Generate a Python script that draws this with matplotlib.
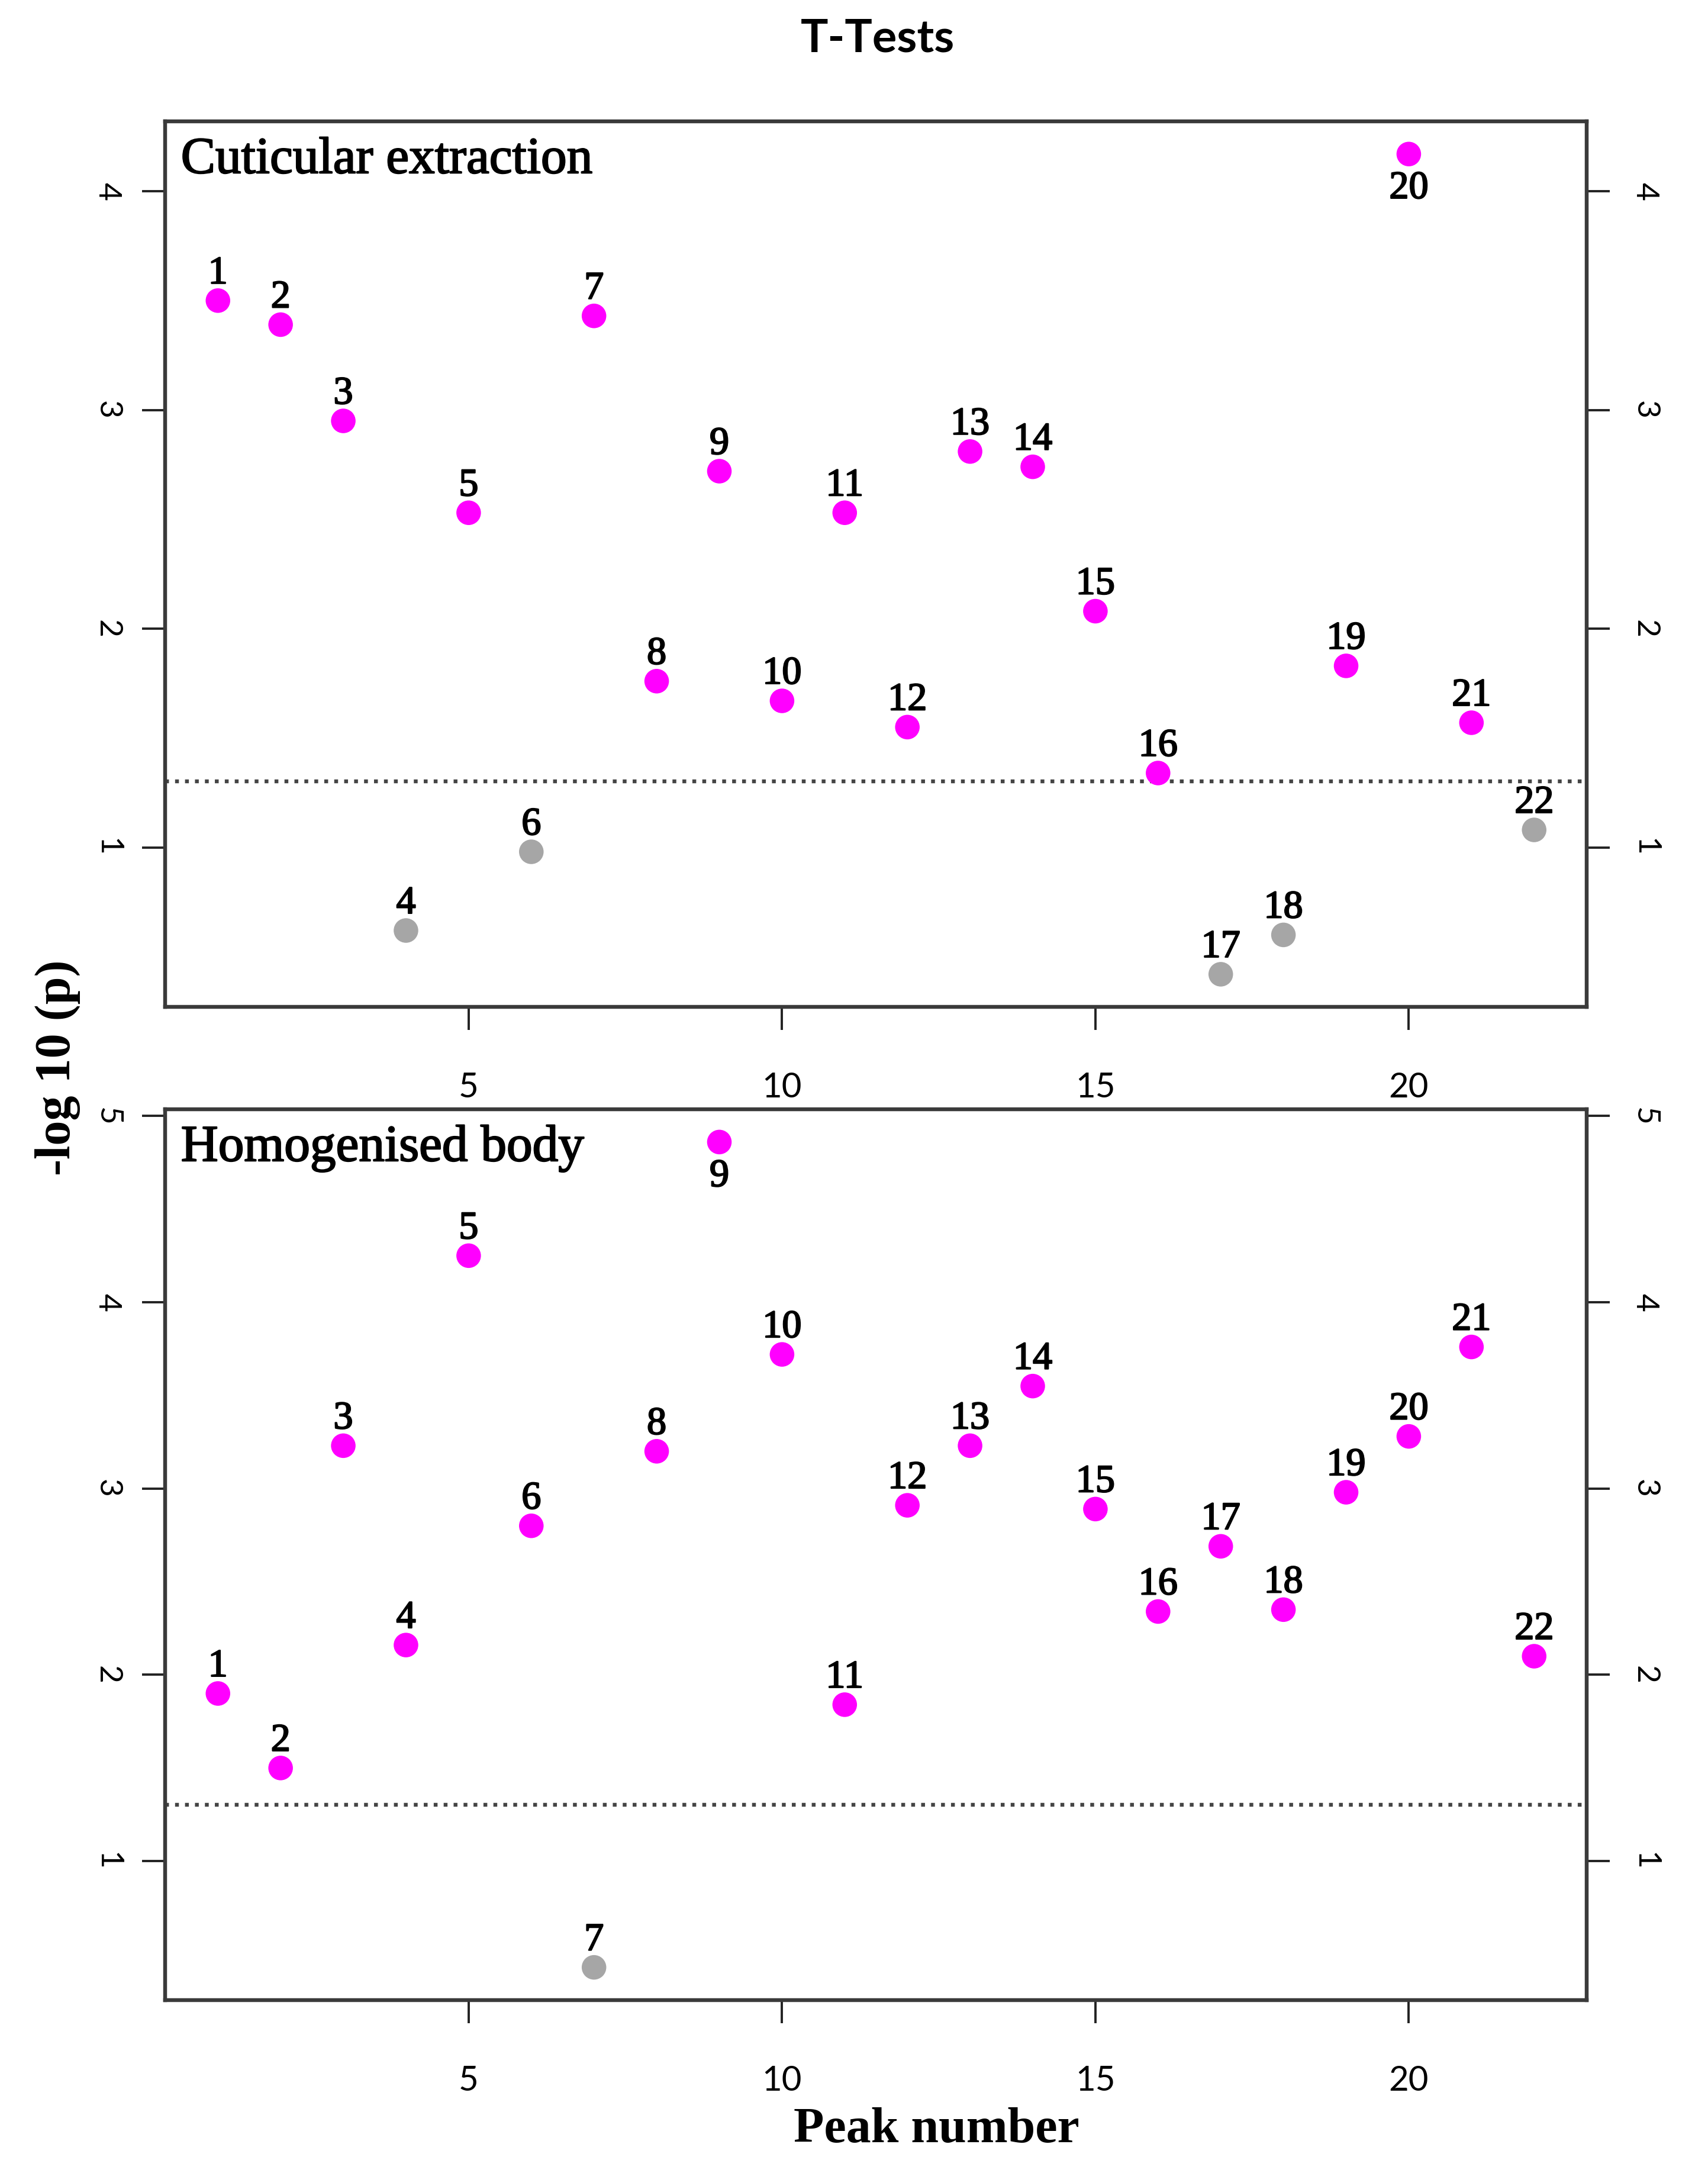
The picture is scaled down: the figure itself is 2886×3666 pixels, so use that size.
import matplotlib
matplotlib.use("Agg")
import matplotlib.pyplot as plt
import matplotlib.patheffects as pe
import numpy as np

# -log10(p) per peak
peaks = np.arange(1, 23)
cuticular = [3.50, 3.39, 2.95, 0.62, 2.53, 0.98, 3.43, 1.76, 2.72, 1.67, 2.53,
             1.55, 2.81, 2.74, 2.08, 1.34, 0.42, 0.60, 1.83, 4.17, 1.57, 1.08]
body = [1.90, 1.50, 3.23, 2.16, 4.25, 2.80, 0.43, 3.20, 4.86, 3.72, 1.84,
        2.91, 3.23, 3.55, 2.89, 2.34, 2.69, 2.35, 2.98, 3.28, 3.76, 2.10]
threshold = -np.log10(0.05)

panel_titles = ["Cuticular extraction", "Homogenised body"]
label_below = [[20], [9]]  # peaks whose number sits under the point
y_ticks = [[1, 2, 3, 4], [1, 2, 3, 4, 5]]
x_ticks = [5, 10, 15, 20]

W, H = 12.4, 3666 / 2886 * 12.4
fig = plt.figure(figsize=(W, H), dpi=2886 / W)

def fy(px):
    return 1 - px / (H * 100)

axes = [fig.add_axes([120 / 1240, fy(731), 1032 / 1240, fy(88) - fy(731)]),
        fig.add_axes([120 / 1240, fy(1452), 1032 / 1240, fy(805) - fy(1452)])]

serif = "Liberation Serif"
sans = "Lato"
thick = [pe.withStroke(linewidth=0.7, foreground="black")]

for ax, vals, title, below, yt in zip(axes, [cuticular, body], panel_titles,
                                      label_below, y_ticks):
    vals = np.array(vals)
    colors = np.where(vals > threshold, "#ff00ff", "#a6a6a6")
    ax.scatter(peaks, vals, s=165, c=colors, edgecolors="none", zorder=3)
    ax.axhline(threshold, color="#444444", lw=2.0, ls=(0, (1, 1.6)), zorder=2)

    for p, v in zip(peaks, vals):
        if p in below:
            ax.annotate(str(p), (p, v), xytext=(0, -9), textcoords="offset points",
                        ha="center", va="top", fontsize=20.5, family=serif,
                        path_effects=thick)
        else:
            ax.annotate(str(p), (p, v), xytext=(0, 9), textcoords="offset points",
                        ha="center", va="baseline", fontsize=20.5, family=serif,
                        path_effects=thick)

    # R style 4% padding
    lo, hi = vals.min(), vals.max()
    pad = (hi - lo) * 0.04
    ax.set_ylim(lo - pad, hi + pad)
    ax.set_xlim(1 - 21 * 0.04, 22 + 21 * 0.04)

    ax.text(0.011, 0.982, title, transform=ax.transAxes, ha="left", va="top",
            fontsize=27, family=serif, path_effects=thick)

    ax.set_xticks(x_ticks)
    ax.set_yticks(yt)
    ax.tick_params(axis="x", length=12, width=1.2, color="#222222", pad=22,
                   labelsize=18)
    ax.tick_params(axis="y", length=12, width=1.2, color="#222222", pad=11,
                   labelsize=16.5, right=True, labelright=True)
    for lab in ax.get_xticklabels():
        lab.set_family(sans)
    for t in ax.yaxis.get_major_ticks():
        for lab in (t.label1, t.label2):
            lab.set_family(sans)
            lab.set_rotation(-90)
            lab.set_va("center")
    for sp in ax.spines.values():
        sp.set_color("#3a3a3a")
        sp.set_linewidth(2.0)

fig.text(637 / 1240, fy(28), "T-Tests", ha="center", va="center",
         fontsize=24, fontweight="bold", family=sans)
fig.text(42 / 1240, fy(775), "-log 10 (p)", ha="center", va="center",
         rotation=90, fontsize=26, fontweight="bold", family=serif)
fig.text(680 / 1240, fy(1546), "Peak number", ha="center", va="center",
         fontsize=26, fontweight="bold", family=serif)

fig.savefig("out.png", dpi=2886 / W, facecolor="white")
